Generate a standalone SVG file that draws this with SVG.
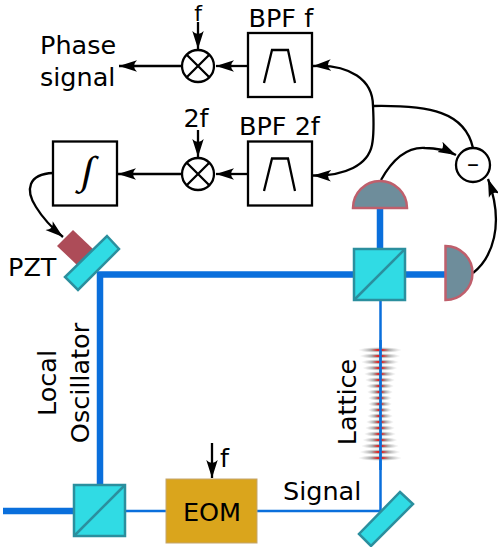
<svg xmlns="http://www.w3.org/2000/svg" width="498" height="547" viewBox="0 0 498 547">
<style>
text{font-family:"DejaVu Sans",sans-serif;font-size:25.500px;fill:#000}
.box{fill:#fff;stroke:#000;stroke-width:2.300}
.f{fill:none;stroke:#000;stroke-width:2.300}
.c{fill:none;stroke:#000;stroke-width:2.300;marker-end:url(#a)}
.n{fill:none;stroke:#000;stroke-width:2.300}
.b1{stroke:#0a6fdc;stroke-width:6.500;fill:none}
.b2{stroke:#0a6fdc;stroke-width:2.500;fill:none}
.o{fill:#30dbe4;stroke:#2b8f9e;stroke-width:2.500}
.d{fill:#6e8d9b;stroke:#bf5f6c;stroke-width:2.500}
.s{fill:url(#g)}
</style>
<defs>
<marker id="a" markerUnits="userSpaceOnUse" markerWidth="19" markerHeight="14" refX="18" refY="6.500" orient="auto">
<path d="M18 6.500L0 .8Q6 6.500 0 12.200Z" fill="#000"/>
</marker>
<radialGradient id="g">
<stop offset="0" stop-color="#ff1010"/>
<stop offset=".2" stop-color="#e02a2a"/>
<stop offset=".45" stop-color="#777" stop-opacity=".6"/>
<stop offset="1" stop-color="#aaa" stop-opacity="0"/>
</radialGradient>
</defs>
<g id="beams">
<path class="b1" d="M3 511H74M100 485V274.500H354M405 274.500H445M380 249V208"/>
<path class="b2" d="M125 511H166M257 511H380.500V300"/>
</g>
<g id="lattice">
<ellipse class="s" cx="380" cy="350" rx="22" ry="3"/>
<ellipse class="s" cx="380" cy="356" rx="20.500" ry="3"/>
<ellipse class="s" cx="380" cy="362" rx="19" ry="3"/>
<ellipse class="s" cx="380" cy="368" rx="17.500" ry="3"/>
<ellipse class="s" cx="380" cy="374" rx="16" ry="3"/>
<ellipse class="s" cx="380" cy="380" rx="15" ry="3"/>
<ellipse class="s" cx="380" cy="386" rx="14" ry="3"/>
<ellipse class="s" cx="380" cy="392" rx="13" ry="3"/>
<ellipse class="s" cx="380" cy="398" rx="12" ry="3"/>
<ellipse class="s" cx="380" cy="404" rx="12" ry="3"/>
<ellipse class="s" cx="380" cy="410" rx="12" ry="3"/>
<ellipse class="s" cx="380" cy="416" rx="13" ry="3"/>
<ellipse class="s" cx="380" cy="422" rx="14" ry="3"/>
<ellipse class="s" cx="380" cy="428" rx="15" ry="3"/>
<ellipse class="s" cx="380" cy="434" rx="16" ry="3"/>
<ellipse class="s" cx="380" cy="440" rx="17.500" ry="3"/>
<ellipse class="s" cx="380" cy="446" rx="19" ry="3"/>
<ellipse class="s" cx="380" cy="452" rx="20.500" ry="3"/>
<ellipse class="s" cx="380" cy="458" rx="22" ry="3"/>
<path class="b2" d="M380.500 340V470"/>
</g>
<g id="connectors">
<path class="c" d="M198 22V49"/>
<path class="c" d="M198 130V157"/>
<path class="c" d="M181 66H119"/>
<path class="c" d="M248 66H216"/>
<path class="c" d="M181 174H118"/>
<path class="c" d="M248 174H216"/>
<path class="c" d="M373 106C373 80 350 64 313 66"/>
<path class="c" d="M373 106C374 125 374 135 372 145C368 165 345 176 313 175.500"/>
<path class="n" d="M373 106C430 105 465 112 473 148"/>
<path class="c" d="M381 180C395 155 410 147 425 148C438 148 448 151 456 155"/>
<path class="c" d="M473 273C492 258 505 225 488 179"/>
<path class="c" d="M53 173C28 174 25 190 36 207C44 220 52 228 63 237"/>
<path class="c" d="M212 443V478"/>
</g>
<g id="bpf-f"><rect class="box" x="248" y="33" width="64" height="64"/><path class="f" d="M264 83L272 50H288L295 83"/><text x="248.500" y="27">BPF f</text></g>
<g id="bpf-2f"><rect class="box" x="248" y="141.500" width="64" height="64"/><path class="f" d="M264 191L272 158.500H288L295 191"/><text x="239" y="135">BPF 2f</text></g>
<g id="mixer-f"><circle class="box" cx="198" cy="66" r="16"/><path class="f" d="M186.700 54.700L209.300 77.300M209.300 54.700L186.700 77.300"/><text x="198" y="21" text-anchor="middle" style="font-size:22px">f</text></g>
<g id="mixer-2f"><circle class="box" cx="198" cy="174" r="16"/><path class="f" d="M186.700 162.700L209.300 185.300M209.300 162.700L186.700 185.300"/><text x="196" y="127" text-anchor="middle">2f</text></g>
<g id="integrator"><rect class="box" x="53" y="141.500" width="64" height="64"/><text transform="translate(85 184) rotate(12)" text-anchor="middle" style="font-family:'Liberation Serif',serif;font-size:42px;font-style:italic">∫</text></g>
<g id="phase-signal"><text x="40" y="54">Phase</text><text x="40" y="86">signal</text></g>
<g id="subtractor"><circle class="box" cx="473" cy="165" r="17"/><text x="473" y="172" text-anchor="middle" style="font-size:24px">–</text></g>
<g id="detector-top"><path class="d" d="M353 208A27 27 0 0 1 407 208Z"/></g>
<g id="detector-right"><path class="d" d="M445.500 246A27 27 0 0 1 445.500 300Z"/></g>
<g id="bs-top"><rect class="o" x="354" y="249" width="51" height="51"/><path class="o" d="M354 300L405 249" fill="none"/></g>
<g id="bs-bottom"><rect class="o" x="74" y="485" width="51" height="51"/><path class="o" d="M74 536L125 485" fill="none"/></g>
<g id="pzt"><path d="M73 230L93 249L77 265L57 246Z" fill="#ad4c58"/><text x="8" y="276">PZT</text></g>
<g id="mirror-lo"><path class="o" d="M107 236L119 249L78 290L65 277Z"/></g>
<g id="mirror-signal"><path class="o" d="M400 492L413 504L371 546L359 534Z"/></g>
<g id="eom"><rect x="166" y="479" width="91" height="64" fill="#daa51c" stroke="#c4a56e"/><text x="212" y="521" text-anchor="middle">EOM</text><text x="220" y="467">f</text></g>
<g id="labels">
<text transform="translate(55.500 383) rotate(-90)" text-anchor="middle">Local</text>
<text transform="translate(88.500 383) rotate(-90)" text-anchor="middle">Oscillator</text>
<text transform="translate(356 402) rotate(-90)" text-anchor="middle">Lattice</text>
<text x="283" y="500">Signal</text>
</g>
</svg>
